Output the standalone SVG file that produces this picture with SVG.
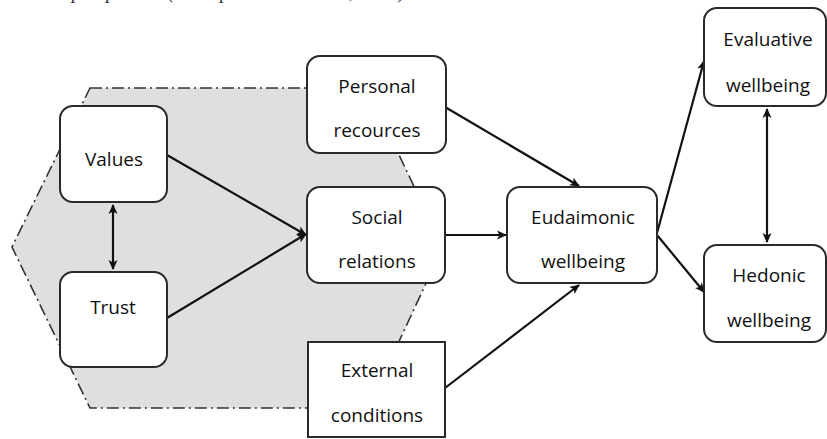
<svg xmlns="http://www.w3.org/2000/svg" width="827" height="439" viewBox="0 0 827 439">
<defs>
<marker id="ah" viewBox="0 0 10 10" refX="9" refY="5" markerWidth="10" markerHeight="10" markerUnits="userSpaceOnUse" orient="auto-start-reverse">
<path d="M0,0.5 L10,5 L0,9.5 L2.5,5 z" fill="#111"/>
</marker>
</defs>
<style>
.box{fill:#fff;stroke:#2a2a2a;stroke-width:2}
.lbl{font-family:"Open Sans","Noto Sans",sans-serif;font-size:19px;fill:#111;text-anchor:middle}
.con{stroke:#111;stroke-width:2.2;fill:none;marker-end:url(#ah)}
.bi{marker-start:url(#ah)}
</style>
<rect width="827" height="439" fill="#fff"/>
<text x="15" y="-2" font-family="'Liberation Serif',serif" font-style="italic" font-size="20" fill="#333">tion in perspective (Thompson and Marks, 2006)</text>
<polygon id="context" points="90,88 367,88 443,247 368,408 90,408 12,247" fill="#dfdfdf" stroke="#333" stroke-width="1.6" stroke-dasharray="12,4,2,4"/>
<g id="connectors">
<line class="con bi" x1="113" y1="205" x2="113" y2="269"/>
<line class="con" x1="167" y1="155" x2="306" y2="235"/>
<line class="con" x1="167" y1="318" x2="306" y2="234"/>
<line class="con" x1="445" y1="107" x2="579" y2="186"/>
<line class="con" x1="445" y1="235" x2="506" y2="235"/>
<line class="con" x1="445" y1="388" x2="579" y2="285"/>
<line class="con" x1="657" y1="233" x2="704" y2="61"/>
<line class="con" x1="657" y1="235" x2="704" y2="292"/>
<line class="con bi" x1="767" y1="109" x2="767" y2="242"/>
</g>
<g id="values"><rect class="box" x="60" y="106" width="107" height="96" rx="13"/><text class="lbl" x="114" y="166">Values</text></g>
<g id="trust"><rect class="box" x="60" y="272" width="107" height="95" rx="13"/><text class="lbl" x="113" y="314">Trust</text></g>
<g id="personal"><rect class="box" x="307" y="56" width="139" height="97" rx="13"/><text class="lbl" x="377" y="93">Personal</text><text class="lbl" x="377" y="137">recources</text></g>
<g id="social"><rect class="box" x="307" y="187" width="138" height="96" rx="13"/><text class="lbl" x="377" y="224">Social</text><text class="lbl" x="377" y="268">relations</text></g>
<g id="external"><rect class="box" x="308" y="342" width="137" height="95"/><text class="lbl" x="377" y="377">External</text><text class="lbl" x="377" y="422">conditions</text></g>
<g id="eudaimonic"><rect class="box" x="507" y="187" width="150" height="96" rx="13"/><text class="lbl" x="583" y="224">Eudaimonic</text><text class="lbl" x="583" y="268">wellbeing</text></g>
<g id="evaluative"><rect class="box" x="704" y="8" width="122" height="98" rx="13"/><text class="lbl" x="768" y="46">Evaluative</text><text class="lbl" x="768" y="92">wellbeing</text></g>
<g id="hedonic"><rect class="box" x="704" y="245" width="122" height="97" rx="13"/><text class="lbl" x="769" y="282">Hedonic</text><text class="lbl" x="769" y="327">wellbeing</text></g>
</svg>
